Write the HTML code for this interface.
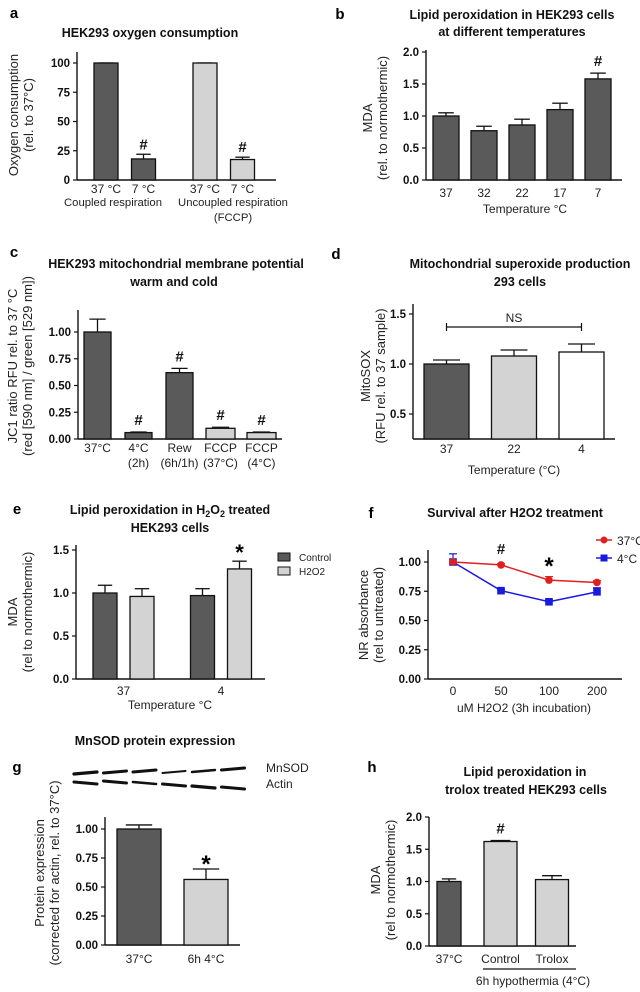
<!DOCTYPE html>
<html><head><meta charset="utf-8">
<style>
html,body{margin:0;padding:0;background:#fff;}
svg{display:block;font-family:"Liberation Sans",Arial,sans-serif;}
.tk{font-size:11.5px;font-weight:bold;fill:#111;}
.lb{font-size:12px;fill:#222;}
.ti{font-size:12.5px;font-weight:bold;fill:#111;}
.pl{font-size:15px;font-weight:bold;fill:#000;}
.hs{font-size:15px;font-weight:bold;fill:#111;}
</style></head>
<body>
<svg id="fig" width="640" height="992" viewBox="0 0 640 992" xmlns="http://www.w3.org/2000/svg"></svg>
<script>
// ---- data ----
const aCats=["37 °C","7 °C","37 °C","7 °C"];
const aVals=[100,18,100,17.5];
const aErr=[100,22,100,19.5];
const aTicks=[0,25,50,75,100];

const bCats=["37","32","22","17","7"];
const bVals=[1.0,0.77,0.86,1.1,1.58];
const bErr=[1.05,0.84,0.95,1.2,1.67];
const bTicks=[0,0.5,1.0,1.5,2.0];

const cCats=["37°C","4°C","Rew","FCCP","FCCP"];
const cSub=["","(2h)","(6h/1h)","(37°C)","(4°C)"];
const cVals=[1.0,0.06,0.62,0.10,0.06];
const cErr=[1.12,0.065,0.66,0.11,0.065];
const cTicks=[0,0.25,0.5,0.75,1.0];

const dCats=["37","22","4"];
const dVals=[1.0,1.08,1.12];
const dErr=[1.04,1.14,1.2];
const dTicks=[0.5,1.0,1.5];

const eCats=["37","4"];
const eControl=[1.0,0.97];
const eControlErr=[1.09,1.05];
const eH2O2=[0.96,1.28];
const eH2O2Err=[1.05,1.37];
const eTicks=[0,0.5,1.0,1.5];

const fCats=["0","50","100","200"];
const f37=[1.0,0.975,0.845,0.825];
const f37Err=[1.0,0.985,0.875,0.84];
const f4=[1.0,0.755,0.66,0.745];
const f4Err=[1.07,0.765,0.675,0.78];
const fTicks=[0,0.25,0.5,0.75,1.0];

const gCats=["37°C","6h 4°C"];
const gVals=[1.0,0.565];
const gErr=[1.035,0.655];
const gTicks=[0,0.25,0.5,0.75,1.0];

const hCats=["37°C","Control","Trolox"];
const hVals=[1.0,1.62,1.03];
const hErr=[1.04,1.635,1.09];
const hTicks=[0,0.5,1.0,1.5,2.0];

const DARK="#5a5a5a",LIGHT="#d3d3d3";
const svg=document.getElementById('fig');
const NS="http://www.w3.org/2000/svg";
function mk(t,a,p){const e=document.createElementNS(NS,t);for(const k in a)e.setAttribute(k,a[k]);(p||svg).appendChild(e);return e;}
function txt(x,y,s,cls,anchor,extra){const e=mk('text',Object.assign({x:x,y:y,class:cls,'text-anchor':anchor||'middle'},extra||{}));e.textContent=s;return e;}
function lin(d0,d1,r0,r1){return v=>r0+(v-d0)*(r1-r0)/(d1-d0);}

function axes(x0,x1,yTop,yBot,ticks,ys,fmt,name){
  const ya=mk('line',{x1:x0,y1:yTop,x2:x0,y2:yBot,stroke:'#111','stroke-width':1.4});
  
  
  const xa=mk('line',{x1:x0,y1:yBot,x2:x1,y2:yBot,stroke:'#111','stroke-width':1.4});
  
  
  ticks.forEach(t=>{
    const y=ys(t);
    mk('line',{x1:x0-4,y1:y,x2:x0,y2:y,stroke:'#111','stroke-width':1.2});
    const l=txt(x0-7,y+4,fmt(t),'tk','end');
    
    
  });
}
function bar(cx,w,v,err,ys,fill,name){
  const yb=ys(v),y0=ys.base;
  if(err!=null){
    const ye=ys(err);
    mk('line',{x1:cx,y1:yb,x2:cx,y2:ye,stroke:'#111','stroke-width':1.3});
    mk('line',{x1:cx-w*0.3,y1:ye,x2:cx+w*0.3,y2:ye,stroke:'#111','stroke-width':1.3});
  }
  const r=mk('rect',{x:cx-w/2,y:yb,width:w,height:Math.max(0,y0-yb),fill:fill,stroke:'#111','stroke-width':1.3});
  
  
  return r;
}
function ytitle(x,y,lines,name){
  lines.forEach((s,i)=>{
    const t=txt(0,0,s,'lb','middle',{transform:`translate(${x+i*15},${y}) rotate(-90)`,style:'font-size:13px'});
    
    
  });
}
function label(x,y,s,cls,name,anchor){const t=txt(x,y,s,cls,anchor);return t;}
const f0=v=>String(v), f1=v=>v.toFixed(1), f2=v=>v.toFixed(2);

// ---- panel a ----
(function(){
  const ys=lin(0,100,180,63);ys.base=180;
  axes(77,276,52,180,aTicks,ys,f0,'a');
  const slot=[0,1,2.64,3.64];const xs=lin(0,1,106,143.5);
  aVals.forEach((v,i)=>{
    bar(xs(slot[i]),24,v,aErr[i],ys,i<2?DARK:LIGHT,'bar-a');
    label(xs(slot[i]),193,aCats[i],'lb','x-tick-label-a');
    if(i%2==1) label(xs(slot[i]),ys(aErr[i])-5,'#','hs','sig-hash');
  });
  label(113,206,'Coupled respiration','lb','group-label-coupled').setAttribute('style','font-size:11.3px');
  label(233,206,'Uncoupled respiration','lb','group-label-uncoupled').setAttribute('style','font-size:11.3px');
  label(233,221,'(FCCP)','lb','group-label-fccp').setAttribute('style','font-size:11.3px');
  label(150,37,'HEK293 oxygen consumption','ti','chart-title-a');
  label(14,18,'a','pl','panel-label-a');
  ytitle(18,115,['Oxygen consumption','(rel. to 37°C)'],'y-axis-title-a');
})();

// ---- panel b ----
(function(){
  const ys=lin(0,2,180,52);ys.base=180;
  axes(426,622,50,180,bTicks,ys,f1,'b');
  const xs=lin(0,1,446,484);
  bVals.forEach((v,i)=>{
    bar(xs(i),26,v,bErr[i],ys,DARK,'bar-b');
    label(xs(i),197,bCats[i],'lb','x-tick-label-b');
  });
  label(xs(4),ys(bErr[4])-7,'#','hs','sig-hash');
  label(525,213,'Temperature °C','lb','x-axis-title-b');
  label(340,19,'b','pl','panel-label-b');
  label(512,19,'Lipid peroxidation in HEK293 cells','ti','chart-title-b');
  label(512,36,'at different temperatures','ti','chart-title-b-2');
  ytitle(372,118,['MDA','(rel. to normothermic)'],'y-axis-title-b');
})();

// ---- panel c ----
(function(){
  const ys=lin(0,1,439,332);ys.base=439;
  axes(78,282,310,439,cTicks,ys,f2,'c');
  const xs=lin(0,1,97.5,138.5);
  cVals.forEach((v,i)=>{
    bar(xs(i),i<3?27:29,v,cErr[i],ys,i<3?DARK:LIGHT,'bar-c');
    label(xs(i),452,cCats[i],'lb','x-tick-label-c');
    label(xs(i),467,cSub[i],'lb','x-tick-sub-c');
    if(i>0) label(xs(i),ys(cErr[i])-7,'#','hs','sig-hash');
  });
  label(14,257,'c','pl','panel-label-c');
  label(176,268,'HEK293 mitochondrial membrane potential','ti','chart-title-c');
  label(174,286,'warm and cold','ti','chart-title-c-2');
  ytitle(17,366,['JC1 ratio RFU rel. to 37 °C','(red [590 nm] / green [529 nm])'],'y-axis-title-c');
})();

// ---- panel d ----
(function(){
  const ys=lin(0.5,1.5,414,314);ys.base=439;
  axes(413,615,304,439,dTicks,ys,f1,'d');
  const xs=lin(0,1,446.5,514);
  const fills=[DARK,LIGHT,'#fff'];
  dVals.forEach((v,i)=>{
    bar(xs(i),45,v,dErr[i],ys,fills[i],'bar-d');
    label(xs(i),453,dCats[i],'lb','x-tick-label-d');
  });
  const br=mk('path',{d:`M${xs(0)},323 V331 M${xs(0)},327 H${xs(2)} M${xs(2)},323 V331`,stroke:'#111','stroke-width':1.2,fill:'none'});
  
  
  label(514,322,'NS','lb','ns-label');
  label(514,474,'Temperature (°C)','lb','x-axis-title-d');
  label(336,259,'d','pl','panel-label-d');
  label(520,268,'Mitochondrial superoxide production','ti','chart-title-d');
  label(520,286,'293 cells','ti','chart-title-d-2');
  ytitle(370,376,['MitoSOX','(RFU rel. to 37 sample)'],'y-axis-title-d');
})();

// ---- panel e ----
(function(){
  const ys=lin(0,1.5,679,550);ys.base=679;
  axes(76,265,545,679,eTicks,ys,f1,'e');
  const xs=lin(0,1,123.5,221);
  eCats.forEach((c,i)=>{
    bar(xs(i)-18.5,24,eControl[i],eControlErr[i],ys,DARK,'bar-e-control');
    bar(xs(i)+18.5,24,eH2O2[i],eH2O2Err[i],ys,LIGHT,'bar-e-h2o2');
    label(xs(i),695,c,'lb','x-tick-label-e');
  });
  label(xs(1)+18.5,ys(eH2O2Err[1])-1,'*','pl','sig-star').setAttribute('style','font-size:22px');
  const l1=mk('rect',{x:278,y:553,width:12,height:8,fill:DARK,stroke:'#111','stroke-width':1});
  
  
  const l2=mk('rect',{x:278,y:567,width:12,height:8,fill:LIGHT,stroke:'#111','stroke-width':1});
  
  
  label(299,561,'Control','lb','legend-entry-control','start').setAttribute('style','font-size:10px');
  label(299,575,'H2O2','lb','legend-entry-h2o2','start').setAttribute('style','font-size:10px');
  label(170,709,'Temperature °C','lb','x-axis-title-e');
  label(17,514,'e','pl','panel-label-e');
  const t=txt(170,514,'','ti','middle');
  t.innerHTML='Lipid peroxidation in H<tspan dy="3" font-size="9">2</tspan><tspan dy="-3">O</tspan><tspan dy="3" font-size="9">2</tspan><tspan dy="-3"> treated</tspan>';
  
  
  label(170,532,'HEK293 cells','ti','chart-title-e-2');
  ytitle(17,612,['MDA','(rel to normothermic)'],'y-axis-title-e');
})();

// ---- panel f ----
(function(){
  const ys=lin(0,1,679,562);ys.base=679;
  axes(428,622,550,679,fTicks,ys,f2,'f');
  const xs=lin(0,1,453,501);
  function series(vals,errs,color,shape,name){
    const pts=vals.map((v,i)=>xs(i)+','+ys(v)).join(' ');
    const pl=mk('polyline',{points:pts,fill:'none',stroke:color,'stroke-width':1.5});
    
    
    vals.forEach((v,i)=>{
      mk('line',{x1:xs(i),y1:ys(v),x2:xs(i),y2:ys(errs[i]),stroke:color,'stroke-width':1.2});
      mk('line',{x1:xs(i)-4,y1:ys(errs[i]),x2:xs(i)+4,y2:ys(errs[i]),stroke:color,'stroke-width':1.2});
      const m=shape=='c'?mk('circle',{cx:xs(i),cy:ys(v),r:3.8,fill:color}):mk('rect',{x:xs(i)-3.8,y:ys(v)-3.8,width:7.6,height:7.6,fill:color});
      
      
    });
  }
  series(f4,f4Err,'#1a1adf','s','series-4c');
  series(f37,f37Err,'#e02020','c','series-37c');
  fCats.forEach((c,i)=>label(xs(i),695,c,'lb','x-tick-label-f'));
  label(xs(1),554,'#','hs','sig-hash');
  label(xs(2),574,'*','pl','sig-star').setAttribute('style','font-size:24px');
  mk('line',{x1:596,y1:540,x2:612,y2:540,stroke:'#e02020','stroke-width':1.5});
  const c1=mk('circle',{cx:604,cy:540,r:3.5,fill:'#e02020'});
  
  
  mk('line',{x1:596,y1:558,x2:612,y2:558,stroke:'#1a1adf','stroke-width':1.5});
  const c2=mk('rect',{x:600.5,y:554.5,width:7,height:7,fill:'#1a1adf'});
  
  
  label(617,545,'37°C','lb','legend-entry-37c','start');
  label(617,563,'4°C','lb','legend-entry-4c','start');
  label(524,712,'uM H2O2 (3h incubation)','lb','x-axis-title-f');
  label(371,518,'f','pl','panel-label-f');
  label(515,517,'Survival after H2O2 treatment','ti','chart-title-f');
  ytitle(368,615,['NR absorbance','(rel to untreated)'],'y-axis-title-f');
})();

// ---- panel g ----
(function(){
  const ys=lin(0,1,945,829);ys.base=945;
  axes(105,240,817,945,gTicks,ys,f2,'g');
  const xs=lin(0,1,139,206);
  gVals.forEach((v,i)=>{
    bar(xs(i),44,v,gErr[i],ys,i==0?DARK:LIGHT,'bar-g');
    label(xs(i),963,gCats[i],'lb','x-tick-label-g');
  });
  label(xs(1),ys(gErr[1])+3,'*','pl','sig-star').setAttribute('style','font-size:24px');
  const blot=mk('g',{});
  
  
  const b1=[[773,3.2],[772,3],[771,3],[772,2],[771,2.4],[769,3]];
  const b2=[[783,3],[782,3],[783,2.6],[785,3],[787,3.2],[788,3]];
  for(let i=0;i<6;i++){
    const x=74+i*29.5;
    mk('line',{x1:x,y1:b1[i][0]+1,x2:x+23,y2:b1[i][0]-1,stroke:'#111','stroke-width':b1[i][1],'stroke-linecap':'round'},blot);
    mk('line',{x1:x,y1:b2[i][0]-1,x2:x+23,y2:b2[i][0]+1,stroke:'#111','stroke-width':b2[i][1],'stroke-linecap':'round'},blot);
  }
  label(266,772,'MnSOD','lb','blot-label-mnsod','start');
  label(266,788,'Actin','lb','blot-label-actin','start');
  label(17,772,'g','pl','panel-label-g');
  label(155,745,'MnSOD protein expression','ti','chart-title-g');
  ytitle(44,873,['Protein expression','(corrected for actin, rel. to 37°C)'],'y-axis-title-g');
})();

// ---- panel h ----
(function(){
  const ys=lin(0,2,946,817);ys.base=946;
  axes(429,576,817,946,hTicks,ys,f1,'h');
  const xs=lin(0,1,449,500.5);
  hVals.forEach((v,i)=>{
    bar(xs(i),i==0?24:33,v,hErr[i],ys,i==0?DARK:LIGHT,'bar-h');
    label(xs(i),963,hCats[i],'lb','x-tick-label-h');
  });
  label(xs(1),ys(hErr[1])-7,'#','hs','sig-hash');
  const gl=mk('line',{x1:483,y1:969,x2:576,y2:969,stroke:'#111','stroke-width':1.2});
  
  
  label(533,985,'6h hypothermia (4°C)','lb','group-label-hypothermia');
  label(372,772,'h','pl','panel-label-h');
  label(525,776,'Lipid peroxidation in','ti','chart-title-h');
  label(526,794,'trolox treated HEK293 cells','ti','chart-title-h-2');
  ytitle(380,880,['MDA','(rel to normothermic)'],'y-axis-title-h');
})();
</script>
</body></html>
